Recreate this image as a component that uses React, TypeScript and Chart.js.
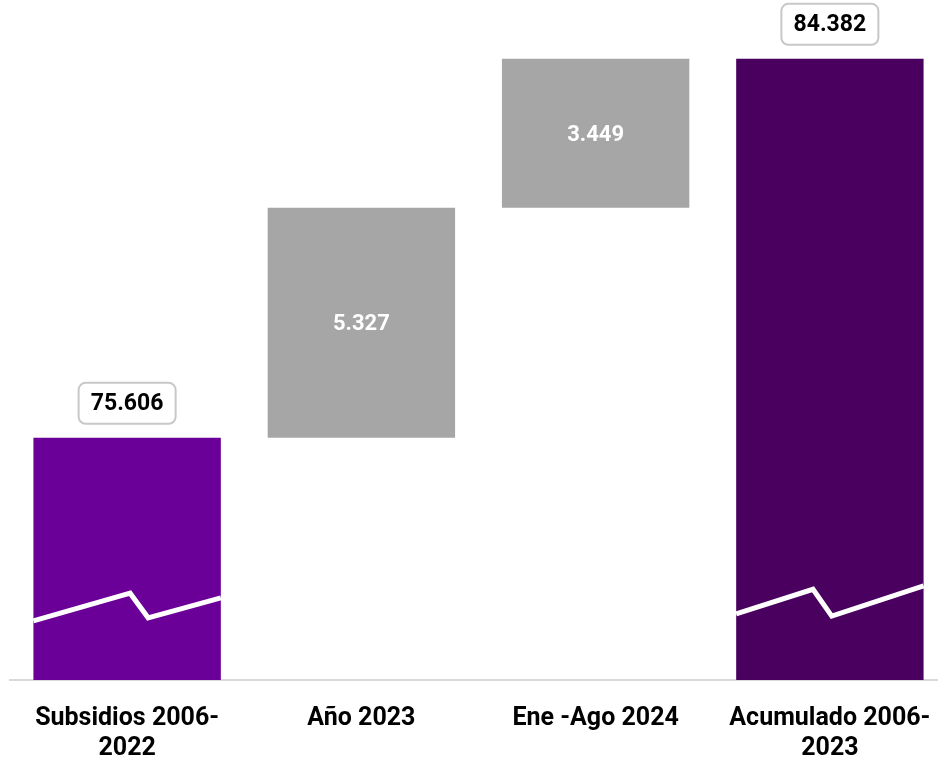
import React, { useEffect, useRef } from "react";
import { Chart, registerables } from "chart.js";

Chart.register(...registerables);

const categories: (string | string[])[] = [
  ["Subsidios 2006-", "2022"],
  "Año 2023",
  "Ene -Ago 2024",
  ["Acumulado 2006-", "2023"],
];
const startTotal = 75606;
const increments = [5327, 3449];
const endTotal = 84382;
const axisMin = 70000;
const axisMax = 85280;

const barColors = ["#6A0098", "#A6A6A6", "#A6A6A6", "#4A005E"];

// break marks: [x fraction of bar width, value]
const breakMarks: Record<number, [number, number][]> = {
  0: [
    [0, 71370],
    [0.516, 72010],
    [0.612, 71440],
    [1, 71900],
  ],
  3: [
    [0, 71530],
    [0.41, 72100],
    [0.51, 71480],
    [1, 72180],
  ],
};

const fmt = (v: number) => Math.round(v).toString().replace(/\B(?=(\d{3})+(?!\d))/g, ".");

export default function App() {
  const ref = useRef<HTMLCanvasElement | null>(null);
  useEffect(() => {
    if (!ref.current) return;
    const ranges: [number, number][] = [];
    let cum = startTotal;
    ranges.push([axisMin, startTotal]);
    increments.forEach((inc) => {
      ranges.push([cum, cum + inc]);
      cum += inc;
    });
    ranges.push([axisMin, endTotal]);
    const labelVals = [startTotal, ...increments, endTotal];

    const overlay = {
      id: "overlay",
      afterDatasetsDraw(chart: any) {
        const ctx = chart.ctx;
        const meta = chart.getDatasetMeta(0);
        const y = chart.scales.y;
        ctx.save();
        // break marks
        Object.keys(breakMarks).forEach((k) => {
          const i = Number(k);
          const el = meta.data[i];
          const left = el.x - el.width / 2;
          ctx.beginPath();
          breakMarks[i].forEach(([fx, v], j) => {
            const px = left + fx * el.width;
            const py = y.getPixelForValue(v);
            if (j === 0) ctx.moveTo(px, py);
            else ctx.lineTo(px, py);
          });
          ctx.strokeStyle = "#ffffff";
          ctx.lineWidth = 5;
          ctx.lineJoin = "miter";
          ctx.stroke();
        });
        // labels
        ctx.textAlign = "center";
        ctx.textBaseline = "middle";
        meta.data.forEach((el: any, i: number) => {
          const text = fmt(labelVals[i]);
          if (i === 0 || i === meta.data.length - 1) {
            const bw = 97;
            const bh = 41;
            const bx = el.x - bw / 2;
            const by = el.y - 14 - bh;
            ctx.beginPath();
            ctx.roundRect(bx, by, bw, bh, 7);
            ctx.fillStyle = "#ffffff";
            ctx.fill();
            ctx.strokeStyle = "#C8C8C8";
            ctx.lineWidth = 2;
            ctx.stroke();
            ctx.font = "bold 23px Roboto";
            ctx.fillStyle = "#000000";
            ctx.fillText(text, el.x, by + bh / 2 + 1);
          } else {
            ctx.font = "bold 22px Roboto";
            ctx.fillStyle = "#ffffff";
            ctx.fillText(text, el.x, (el.y + el.base) / 2 + 2);
          }
        });
        ctx.restore();
      },
    };

    const chart = new Chart(ref.current, {
      type: "bar",
      data: {
        labels: categories,
        datasets: [
          {
            data: ranges as any,
            backgroundColor: barColors,
            borderWidth: 0,
            borderSkipped: false,
            barPercentage: 0.8,
            categoryPercentage: 1,
          },
        ],
      },
      options: {
        animation: false,
        responsive: true,
        maintainAspectRatio: false,
        layout: { padding: { left: 10, right: 1, top: 20, bottom: 0 } },
        plugins: {
          legend: { display: false },
          tooltip: { enabled: false },
        },
        scales: {
          x: {
            grid: { display: true, color: "transparent", drawTicks: false, drawOnChartArea: false },
            border: { display: true, color: "#D9D9D9", width: 2 },
            ticks: {
              color: "#000000",
              font: { family: "Roboto", weight: "bold", size: 25, lineHeight: 1.18 },
              padding: 24,
              maxRotation: 0,
              minRotation: 0,
              autoSkip: false,
            },
            afterFit: (scale: any) => {
              scale.height = 81;
              scale.paddingLeft = 0;
              scale.paddingRight = 0;
            },
          },
          y: {
            display: false,
            min: axisMin,
            max: axisMax,
          },
        },
      },
      plugins: [overlay],
    });
    return () => chart.destroy();
  }, []);

  return (
    <div style={{ position: "absolute", left: 0, top: 0, width: 938, height: 761, overflow: "hidden", background: "#fff" }}>
      <div style={{ position: "relative", width: 948, height: 761 }}>
        <canvas ref={ref} />
      </div>
    </div>
  );
}
